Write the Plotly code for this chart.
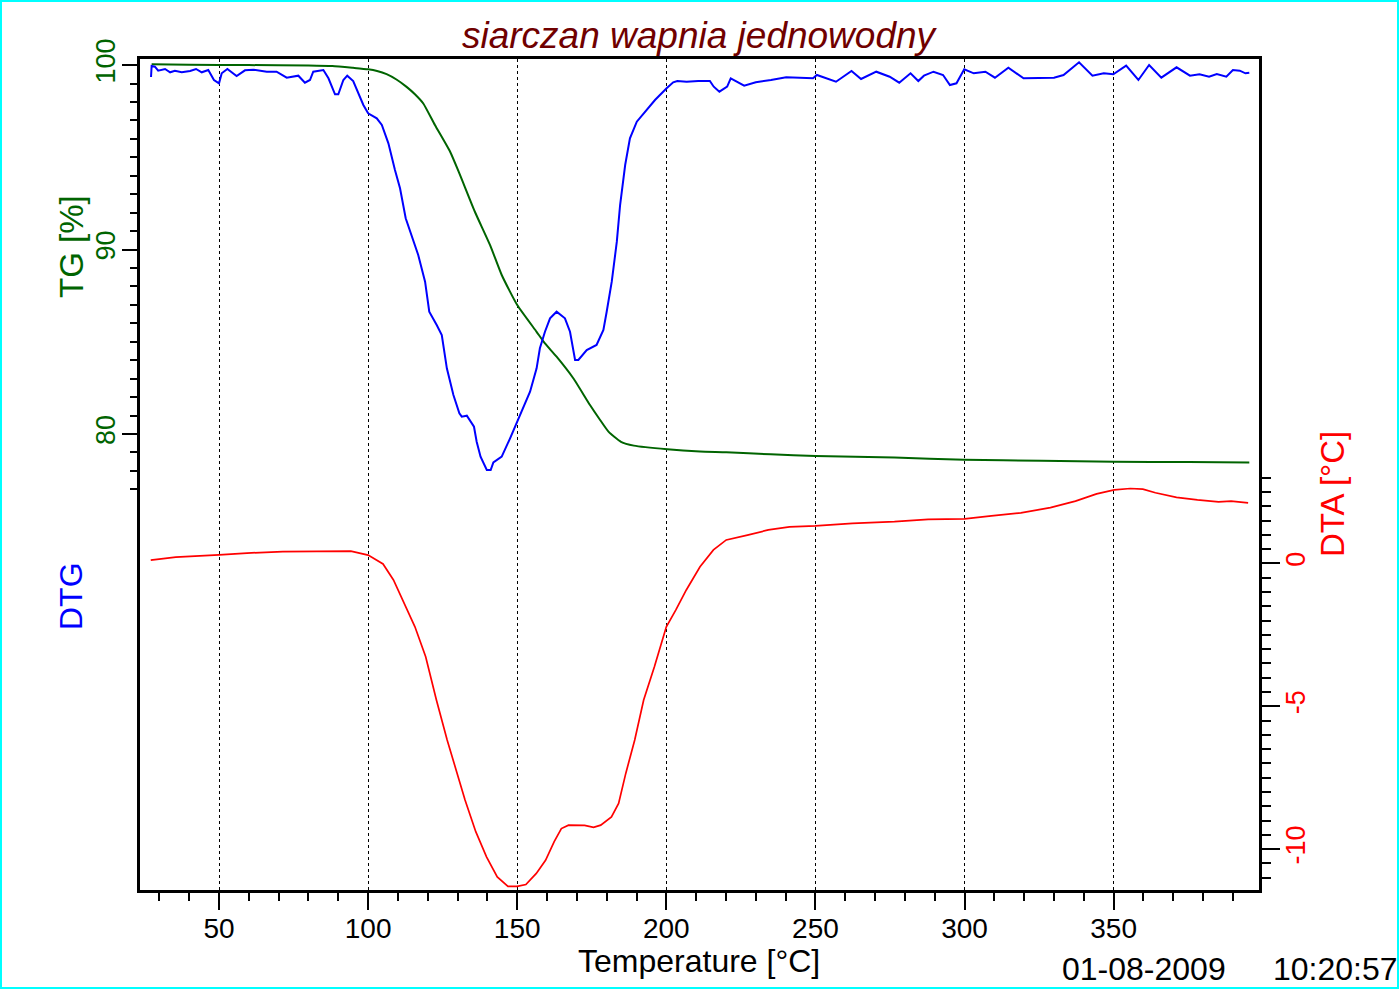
import plotly.graph_objects as go

# ---------------- data ----------------
tg_temp = [27.4, 40, 60, 80, 88, 95, 100, 103, 106.2, 109.5, 112.9, 115.7, 118.5,
           122.4, 127.5, 130.6, 135.8, 140.9, 144.8, 150, 156.5, 159.3, 163.2, 168.8,
           174.4, 177.8, 180.6, 184.8, 189.1, 200.3, 211.3, 220.1, 235, 250, 276.5,
           300, 325.9, 350.2, 375.3, 395.5]
tg_values = [100.04, 100.02, 100.0, 99.98, 99.95, 99.85, 99.77, 99.68, 99.51, 99.22,
             98.82, 98.42, 97.92, 96.75, 95.3, 94.13, 92.05, 90.24, 88.62, 86.99,
             85.54, 84.91, 84.19, 83.02, 81.57, 80.76, 80.13, 79.58, 79.37, 79.17,
             79.05, 79.01, 78.9, 78.81, 78.72, 78.61, 78.55, 78.5, 78.48, 78.46]

dtg_temp = [27.2, 27.4, 28.5, 29.6, 31.9, 33.6, 35.2, 37.5, 40.3, 42.3, 44.2, 46.4,
            48.3, 50, 50.9, 52.8, 55.9, 58.7, 61.5, 66, 69.3, 72.7, 76.6, 78.8, 80.5,
            81.6, 85, 86.7, 88.9, 90, 91.7, 93, 95, 97, 98.4, 100, 102.9, 104.6, 106.8,
            109, 110.7, 112.6, 114.6, 116.8, 119.1, 120.5, 123, 124.7, 126.4, 128.6,
            130.6, 131.4, 133.1, 135.5, 136.4, 137.7, 139.8, 141.1, 142, 144.8, 147.6,
            150, 152.1, 154.3, 156.5, 157.6, 159.3, 161, 163.2, 166, 167.7, 169.4,
            170.5, 173.3, 176.6, 178.9, 180, 181.7, 183.4, 184.5, 186.2, 187.8, 190.1,
            192.9, 196.2, 200.1, 202.3, 203.7, 206.8, 210.7, 214.6, 215.9, 217.8,
            220.4, 221.6, 226.1, 230, 235.1, 240.2, 249.2, 250.5, 256.9, 262.1, 265.3,
            270.4, 274.9, 278.1, 281.9, 284.5, 286.4, 289.6, 292.8, 295.1, 297.3,
            299.9, 303.1, 307, 310.2, 314.7, 319.8, 326.2, 330, 333.2, 338.4, 342.9,
            346.7, 349.9, 354.2, 358.3, 361.9, 366, 371.1, 375.6, 378.8, 382, 384.6,
            387.8, 390, 392.3, 394.2, 395.5]
dtg_values = [-0.11, 0.0, -0.007, -0.047, -0.03, -0.063, -0.047, -0.063, -0.05, -0.03,
              -0.063, -0.04, -0.14, -0.173, -0.073, -0.03, -0.10, -0.043, -0.037,
              -0.057, -0.057, -0.117, -0.097, -0.167, -0.14, -0.057, -0.04, -0.123,
              -0.283, -0.283, -0.14, -0.097, -0.15, -0.29, -0.39, -0.473, -0.523,
              -0.59, -0.773, -1.04, -1.223, -1.523, -1.69, -1.89, -2.157, -2.457,
              -2.59, -2.69, -3.023, -3.29, -3.473, -3.507, -3.497, -3.607, -3.757,
              -3.907, -4.04, -4.04, -3.963, -3.907, -3.723, -3.557, -3.423, -3.257,
              -3.023, -2.823, -2.657, -2.523, -2.457, -2.523, -2.657, -2.94, -2.94,
              -2.84, -2.79, -2.64, -2.457, -2.157, -1.757, -1.39, -0.99, -0.723,
              -0.557, -0.457, -0.34, -0.223, -0.163, -0.15, -0.157, -0.15, -0.15,
              -0.207, -0.257, -0.207, -0.123, -0.197, -0.163, -0.14, -0.113, -0.123,
              -0.09, -0.157, -0.05, -0.13, -0.057, -0.107, -0.167, -0.073, -0.15,
              -0.097, -0.057, -0.09, -0.19, -0.173, -0.033, -0.073, -0.057, -0.117,
              -0.017, -0.123, -0.123, -0.117, -0.09, 0.037, -0.097, -0.073, -0.083,
              0.003, -0.14, 0.01, -0.117, -0.013, -0.097, -0.083, -0.107, -0.08,
              -0.107, -0.04, -0.047, -0.073, -0.067]

dta_temp = [27.1, 35.5, 50, 59.4, 71.4, 83.4, 94.2, 100, 105, 108.5, 112.7, 115.7,
            119.3, 122.9, 126.5, 129.5, 132.5, 136.1, 139.7, 143.3, 146.9, 150, 152.9,
            156.4, 159.5, 162.4, 164.8, 167.2, 172.6, 175.6, 178, 181.6, 184, 186.4,
            189.4, 192.4, 196, 200, 203.2, 206.7, 211.3, 215.8, 220.1, 227.2,
            234.2, 241.3, 250, 262.4, 276.5, 287.8, 300, 309, 318.9, 328.8, 337.2,
            344.3, 350.2, 355.6, 359.8, 364, 371.1, 378.1, 385.2, 389.4, 395.1]
dta_values = [0.115, 0.22, 0.30, 0.36, 0.41, 0.43, 0.43, 0.29, -0.02, -0.58, -1.52,
              -2.22, -3.27, -4.78, -6.18, -7.23, -8.28, -9.39, -10.27, -10.97, -11.3,
              -11.3, -11.24, -10.85, -10.39, -9.74, -9.28, -9.16, -9.17, -9.24, -9.16,
              -8.87, -8.40, -7.35, -6.18, -4.78, -3.62, -2.22, -1.63, -0.93, -0.12,
              0.47, 0.82, 0.99, 1.17, 1.28, 1.31, 1.40, 1.46, 1.54, 1.56, 1.66,
              1.77, 1.95, 2.18, 2.43, 2.57, 2.62, 2.60, 2.47, 2.31, 2.22, 2.15, 2.18,
              2.12]

x_major = [50, 100, 150, 200, 250, 300, 350]
x_minor = [30, 40, 60, 70, 80, 90, 110, 120, 130, 140, 160, 170, 180, 190, 210, 220,
           230, 240, 260, 270, 280, 290, 310, 320, 330, 340, 360, 370, 380, 390]
tg_major = [80, 90, 100]
tg_minor = [77, 78, 79, 81, 82, 83, 84, 85, 86, 87, 88, 89, 91, 92, 93, 94, 95, 96,
            97, 98, 99]
dta_major = [-10, -5, 0]
dta_minor = [-11.0, -10.5, -9.5, -9.0, -8.5, -8.0, -7.5, -7.0, -6.5, -6.0, -5.5,
             -4.5, -4.0, -3.5, -3.0, -2.5, -2.0, -1.5, -1.0, -0.5, 0.5, 1.0, 1.5,
             2.0, 2.5, 3.0]

# ---------------- styling ----------------
FONT = "Liberation Sans, Arial, sans-serif"
GREEN = "#006400"
BLUE = "#0000FF"
RED = "#FF0000"
TITLE_COLOR = "#700000"

W, H = 1400, 990
L, R, T, B = 140, 141, 59, 100
PW, PH = W - L - R, H - T - B


def px_to_paper_x(px):
    return (px - L) / PW


def px_to_paper_y(py):
    return 1 - (py - T) / PH


fig = go.Figure()
fig.add_trace(go.Scatter(x=tg_temp, y=tg_values, mode="lines", yaxis="y",
                         line=dict(color=GREEN, width=2, shape="spline",
                                   smoothing=0.5), name="TG"))
fig.add_trace(go.Scatter(x=dtg_temp, y=dtg_values, mode="lines", yaxis="y3",
                         line=dict(color=BLUE, width=2), name="DTG"))
fig.add_trace(go.Scatter(x=dta_temp, y=dta_values, mode="lines", yaxis="y2",
                         line=dict(color=RED, width=1.7), name="DTA"))

axis_common = dict(showline=True, linecolor="black", linewidth=3, ticks="outside",
                   tickcolor="black", tickwidth=2, zeroline=False)

fig.update_layout(
    width=W, height=H,
    margin=dict(l=L, r=R, t=T, b=B, pad=0),
    paper_bgcolor="white", plot_bgcolor="white",
    showlegend=False,
    font=dict(family=FONT, size=27, color="black"),
    xaxis=dict(range=[23.5, 398.75], tickmode="array", tickvals=x_major,
               ticktext=[str(v) for v in x_major], ticklen=17, mirror=True,
               showgrid=True, gridcolor="black", gridwidth=1, griddash="dot",
               tickfont=dict(size=28, color="black"), ticklabelstandoff=-6,
               minor=dict(tickmode="array", tickvals=x_minor, ticklen=8,
                          tickwidth=2, tickcolor="black", ticks="outside",
                          showgrid=False),
               **axis_common),
    yaxis=dict(range=[55.28, 100.33], tickmode="array", tickvals=tg_major,
               ticktext=[str(v) for v in tg_major], ticklen=15, tickangle=-90,
               showgrid=False, tickfont=dict(size=27, color=GREEN),
               ticklabelstandoff=-4,
               minor=dict(tickmode="array", tickvals=tg_minor, ticklen=7,
                          tickwidth=2, tickcolor="black", ticks="outside",
                          showgrid=False),
               **axis_common),
    yaxis2=dict(range=[-11.43, 17.65], overlaying="y", side="right",
                tickmode="array", tickvals=dta_major,
                ticktext=[str(v) for v in dta_major], ticklen=18, tickangle=-90,
                showgrid=False, tickfont=dict(size=27, color=RED),
                ticklabelstandoff=-7,
                minor=dict(tickmode="array", tickvals=dta_minor, ticklen=9,
                           tickwidth=2, tickcolor="black", ticks="outside",
                           showgrid=False),
                **axis_common),
    yaxis3=dict(range=[-8.24, 0.07], overlaying="y", visible=False),
)

annotations = [
    dict(text="<i>siarczan wapnia jednowodny</i>", x=px_to_paper_x(700),
         y=px_to_paper_y(35), font=dict(size=37, color=TITLE_COLOR)),
    dict(text="TG [%]", x=px_to_paper_x(71), y=px_to_paper_y(247), textangle=-90,
         font=dict(size=33, color=GREEN)),
    dict(text="DTG", x=px_to_paper_x(71), y=px_to_paper_y(596), textangle=-90,
         font=dict(size=32, color=BLUE)),
    dict(text="DTA [°C]", x=px_to_paper_x(1332), y=px_to_paper_y(494), textangle=-90,
         font=dict(size=33, color=RED)),
    dict(text="Temperature [°C]", x=px_to_paper_x(699), y=px_to_paper_y(961),
         font=dict(size=32, color="black")),
    dict(text="01-08-2009", x=px_to_paper_x(1144), y=px_to_paper_y(969),
         font=dict(size=32, color="black")),
    dict(text="10:20:57", x=px_to_paper_x(1335), y=px_to_paper_y(969),
         font=dict(size=32, color="black")),
]
for a in annotations:
    a.update(xref="paper", yref="paper", showarrow=False, xanchor="center",
             yanchor="middle")
fig.update_layout(annotations=annotations)

# cyan frame around the whole picture
fig.add_shape(type="rect", xref="paper", yref="paper",
              x0=px_to_paper_x(1), x1=px_to_paper_x(1398),
              y0=px_to_paper_y(988), y1=px_to_paper_y(1),
              line=dict(color="#00FFFF", width=2), layer="above")

fig.write_html("out.html",
               config={"displayModeBar": False},
               post_script="document.body.style.margin='0';"
                           "document.body.style.overflow='hidden';")
